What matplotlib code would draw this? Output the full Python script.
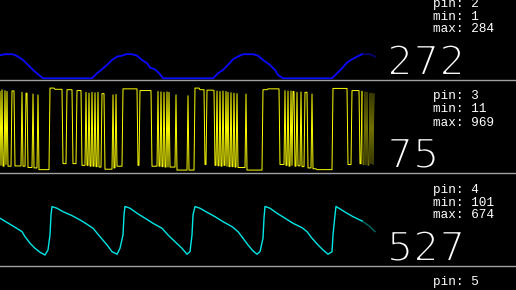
import numpy as np
import matplotlib.pyplot as plt
import matplotlib.patheffects as pe

W, H = 516, 290
PANEL_H = 93
panel_tops = [-13, 80, 173, 266]

pins = [2, 3, 4, 5]
mins = [1, 11, 101]
maxs = [284, 969, 674]
current = [272, 75, 527]

# pin 2 (blue), read as (sample, value)
blue_x = [0, 5, 13, 18, 23, 28, 33, 38, 43,
          92, 97, 102, 107, 112, 117, 122, 127, 132, 137, 142, 147, 150, 155, 160, 163,
          213, 218, 223, 228, 233, 238, 243, 253, 258, 263, 270, 275, 278, 283,
          332, 337, 342, 347, 352, 357, 362, 370, 375]
blue_v = [269, 281, 281, 253, 214, 156, 98, 48, 1,
          1, 59, 106, 156, 214, 253, 264, 284, 281, 264, 214, 176, 125, 106, 48, 1,
          1, 59, 98, 156, 222, 253, 281, 281, 264, 214, 156, 98, 40, 1,
          1, 59, 118, 183, 222, 253, 281, 281, 253]

# pin 3 (yellow), runs: sample where a level starts, level
yellow_start = [0, 1, 2, 3, 5, 6, 7, 8, 12, 15,
                22, 23, 26, 28, 33, 34, 38, 39,
                50, 55, 63, 67, 73, 77, 82,
                86, 87, 89, 90, 92, 93, 95, 96, 98, 99, 102, 105,
                113, 114, 116, 117,
                123, 138, 140, 152,
                158, 159, 161, 162, 164, 165, 167, 168, 169, 170,
                176, 177, 188, 189,
                195, 200, 205, 207,
                214, 215, 217, 218, 220, 221, 223, 224, 226, 227, 228, 229,
                231, 232, 234, 235, 237, 238,
                246, 247,
                263, 268, 280,
                285, 286, 288, 289, 291, 292, 293, 295, 297, 298, 301, 302,
                305, 308, 312, 313, 317,
                333, 348, 352, 360,
                362, 363, 365, 366, 367, 368, 370, 371, 372, 373, 374]
yellow_level = [930, 70, 950, 60, 940, 80, 930, 60, 936, 63,
                920, 60, 910, 45, 900, 40, 890, 20,
                969, 955, 90, 950, 90, 940, 70,
                920, 70, 910, 60, 920, 60, 915, 55, 920, 50, 905, 25,
                890, 40, 895, 60,
                960, 70, 940, 60,
                930, 60, 925, 55, 920, 50, 925, 50, 920, 50,
                890, 15, 880, 15,
                969, 950, 80, 945,
                940, 70, 935, 65, 930, 60, 935, 70, 930, 60, 920, 55,
                915, 55, 910, 50, 905, 45,
                900, 15,
                950, 960, 80,
                940, 70, 935, 60, 935, 70, 930, 60, 920, 65, 925, 55,
                920, 40, 900, 30, 20,
                965, 80, 940, 90,
                930, 80, 925, 75, 920, 70, 910, 90, 910, 80, 900]
N_SAMPLES = 375

# pin 4 (cyan), read as (sample, value)
cyan_x = [0, 10, 15, 22, 25, 30, 35, 40, 45, 48, 50, 51, 52, 57, 63, 72, 80, 87, 93, 100, 107,
          112, 117, 120, 123, 124, 125, 130, 137, 145, 153, 162, 168, 175, 182, 187, 190,
          192, 193, 195, 200, 207, 215, 223, 232, 238, 243, 248, 253, 257, 260, 263, 264,
          265, 270, 277, 285, 293, 302, 307, 312, 318, 323, 328, 332, 333, 335, 336, 340,
          347, 353, 362, 370, 375]
cyan_v = [537, 467, 432, 381, 322, 246, 187, 141, 109, 168, 342, 575, 672, 653, 613, 567, 517,
          467, 420, 322, 226, 148, 118, 187, 342, 575, 674, 653, 595, 537, 478, 420, 342, 264,
          187, 118, 148, 342, 575, 672, 653, 606, 555, 497, 439, 381, 304, 226, 156, 118, 148,
          304, 537, 674, 653, 595, 537, 478, 427, 381, 304, 226, 168, 118, 148, 342, 575, 674,
          645, 595, 555, 505, 439, 381]

colors = ['#0a0aff', '#ffff00', '#00e6e6']
FADE_X = 362

fig = plt.figure(figsize=(W / 100, H / 100), dpi=100, facecolor='black')


def panel_axes(top):
    ax = fig.add_axes([0, 1 - (top + PANEL_H) / H, 1, PANEL_H / H])
    ax.set_xlim(0, W)
    ax.set_ylim(-19, 1063)
    ax.set_facecolor('black')
    ax.axis('off')
    # separator under the panel
    ax.plot([0, 1], [0, 0], transform=ax.transAxes, color='#a0a0a0', lw=1.0, clip_on=False)
    return ax


def draw(ax, x, v, color, lw):
    x = np.asarray(x)
    v = np.asarray(v)
    k = np.searchsorted(x, FADE_X)
    ax.plot(x[:k + 1], v[:k + 1], color=color, lw=lw)
    ax.plot(x[k:], v[k:], color=color, lw=lw, alpha=0.45)


axes = [panel_axes(t) for t in panel_tops]

draw(axes[0], blue_x, blue_v, colors[0], 1.3)

lens = np.diff(yellow_start + [N_SAMPLES])
yellow_v = np.repeat(yellow_level, lens)
draw(axes[1], np.arange(N_SAMPLES), yellow_v, colors[1], 0.7)

draw(axes[2], cyan_x, cyan_v, colors[2], 1.0)

# thin the big digits by eroding the outline with a black stroke
thin = [pe.Stroke(linewidth=1.5, foreground='black')]

for i, top in enumerate(panel_tops):
    fig.text(433 / W, 1 - (top + 16.5) / H, 'pin: %d' % pins[i], color='white',
             family='Liberation Mono', fontsize=9.2, va='center', ha='left')
    if i < 3:
        fig.text(433 / W, 1 - (top + 29.5) / H, 'min: %d' % mins[i], color='white',
                 family='Liberation Mono', fontsize=9.2, va='center', ha='left')
        fig.text(433 / W, 1 - (top + 42.5) / H, 'max: %d' % maxs[i], color='white',
                 family='Liberation Mono', fontsize=9.2, va='center', ha='left')
        fig.text(387 / W, 1 - (top + 88) / H, str(current[i]), color='white',
                 family='DejaVu Sans', fontsize=29.5, va='baseline', ha='left',
                 path_effects=thin)

fig.savefig('out.png', dpi=100, facecolor='black')
